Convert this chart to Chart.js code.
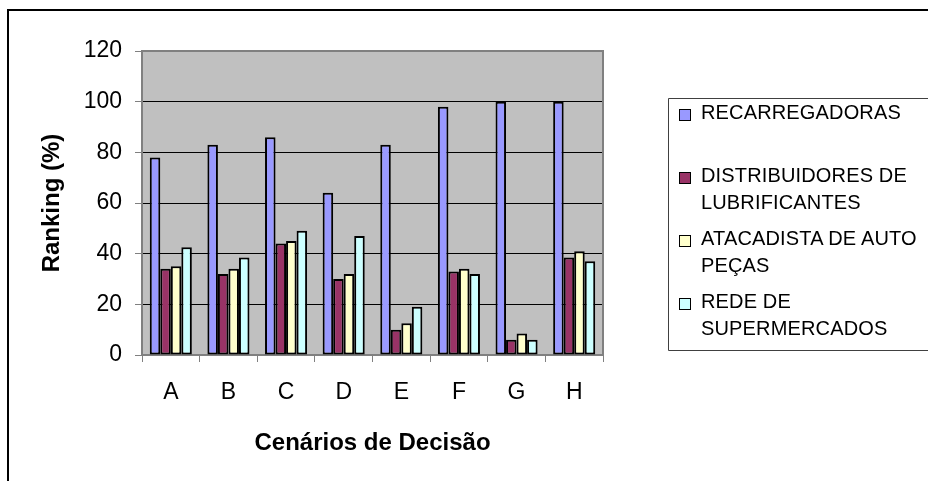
<!DOCTYPE html>
<html>
<head>
<meta charset="utf-8">
<script src="https://cdn.jsdelivr.net/npm/chart.js@4/dist/chart.umd.min.js"></script>
<style>
  html, body { margin: 0; padding: 0; background: #fff; overflow: hidden; }
  #wrap { position: relative; width: 928px; height: 481px; overflow: hidden; }
  #chart { position: absolute; left: 0; top: 0; }
  #legend { position: absolute; left: 668px; top: 98px; width: 260px; height: 253px; overflow: hidden; }
  .item { position: absolute; left: 0; font: 20px "Liberation Sans", Arial, sans-serif; line-height: 27px; color: #000; white-space: nowrap; }
  .item .sw { position: absolute; left: 11px; top: 10px; width: 10px; height: 10px; border: 1px solid #000; }
  .item .txt { position: absolute; left: 33px; top: 0; letter-spacing: 0.15px; }
</style>
</head>
<body>
<div id="wrap">
  <canvas id="chart" width="928" height="481"></canvas>
  <div id="legend"></div>
</div>
<script>
  var categories = ['A', 'B', 'C', 'D', 'E', 'F', 'G', 'H'];
  var seriesNames = ['RECARREGADORAS', 'DISTRIBUIDORES DE LUBRIFICANTES', 'ATACADISTA DE AUTO PEÇAS', 'REDE DE SUPERMERCADOS'];
  var legendLines = [
    ['RECARREGADORAS'],
    ['DISTRIBUIDORES DE', 'LUBRIFICANTES'],
    ['ATACADISTA DE AUTO', 'PEÇAS'],
    ['REDE DE', 'SUPERMERCADOS']
  ];
  var recarregadoras = [78, 83, 86, 64, 83, 98, 100, 100];
  var distribuidores = [34, 32, 44, 30, 10, 33, 6, 38.5];
  var atacadista = [35, 34, 45, 32, 12.5, 34, 8.5, 41];
  var supermercados = [42.5, 38.5, 49, 47, 19, 32, 6, 37];
  var colors = ['#9999FF', '#993366', '#FFFFCC', '#CCFFFF'];
  var yTicks = [0, 20, 40, 60, 80, 100, 120];

  var seriesValues = [recarregadoras, distribuidores, atacadista, supermercados];
  var font = '"Liberation Sans", Arial, sans-serif';

  // plot background, plot border, outer frame and legend box lines
  var plotArea = {
    id: 'plotArea',
    beforeDraw: function (chart) {
      var a = chart.chartArea;
      var ctx = chart.ctx;
      ctx.save();
      ctx.fillStyle = '#C0C0C0';
      ctx.fillRect(a.left, a.top, a.right - a.left, a.bottom - a.top);

      ctx.strokeStyle = '#000';
      ctx.lineWidth = 2;
      ctx.beginPath();
      ctx.moveTo(8, 481);
      ctx.lineTo(8, 10);
      ctx.lineTo(928, 10);
      ctx.stroke();

      ctx.strokeStyle = '#404040';
      ctx.lineWidth = 1;
      ctx.beginPath();
      ctx.moveTo(928, 98.5);
      ctx.lineTo(668.5, 98.5);
      ctx.lineTo(668.5, 350.5);
      ctx.lineTo(928, 350.5);
      ctx.stroke();
      ctx.restore();
    },
    afterDraw: function (chart) {
      var a = chart.chartArea;
      var ctx = chart.ctx;
      ctx.save();
      ctx.strokeStyle = '#808080';
      ctx.lineWidth = 2;
      ctx.beginPath();
      ctx.moveTo(a.left, a.top);
      ctx.lineTo(a.right, a.top);
      ctx.lineTo(a.right, a.bottom);
      ctx.stroke();
      ctx.restore();
    }
  };

  new Chart(document.getElementById('chart'), {
    type: 'bar',
    data: {
      labels: categories,
      datasets: seriesValues.map(function (vals, i) {
        return {
          label: seriesNames[i],
          data: vals,
          backgroundColor: colors[i],
          borderColor: '#000',
          borderWidth: 2,
          borderSkipped: false,
          categoryPercentage: 0.73,
          barPercentage: 1
        };
      })
    },
    options: {
      responsive: false,
      animation: false,
      layout: { padding: { left: 0, top: 51, right: 325, bottom: 0 } },
      plugins: { legend: { display: false }, tooltip: { enabled: false } },
      scales: {
        x: {
          afterFit: function (s) { s.height = 126; },
          grid: { drawOnChartArea: false, tickLength: 7, tickColor: '#808080', lineWidth: 1 },
          border: { color: '#808080', width: 2 },
          ticks: { color: '#000', font: { family: font, size: 23 }, padding: 17 },
          title: {
            display: true,
            text: 'Cenários de Decisão',
            color: '#000',
            font: { family: font, size: 24, weight: 'bold' },
            padding: { top: 0, bottom: 23 }
          }
        },
        y: {
          min: 0,
          max: 120,
          afterFit: function (s) { s.width = 142; },
          afterBuildTicks: function (s) {
            s.ticks = yTicks.map(function (v) { return { value: v }; });
          },
          grid: { color: '#000', tickColor: '#808080', tickLength: 7, lineWidth: 1 },
          border: { color: '#808080', width: 2 },
          ticks: { color: '#000', font: { family: font, size: 23 }, padding: 13 },
          title: {
            display: true,
            text: 'Ranking (%)',
            color: '#000',
            font: { family: font, size: 24, weight: 'bold' },
            padding: { top: 38, bottom: 0 }
          }
        }
      }
    },
    plugins: [plotArea]
  });

  var legendEl = document.getElementById('legend');
  legendLines.forEach(function (lines, i) {
    var item = document.createElement('div');
    item.className = 'item';
    item.style.top = (1 + 63 * i) + 'px';
    var sw = document.createElement('div');
    sw.className = 'sw';
    sw.style.background = colors[i];
    item.appendChild(sw);
    var txt = document.createElement('div');
    txt.className = 'txt';
    txt.innerHTML = lines.join('<br>');
    item.appendChild(txt);
    legendEl.appendChild(item);
  });
</script>
</body>
</html>
